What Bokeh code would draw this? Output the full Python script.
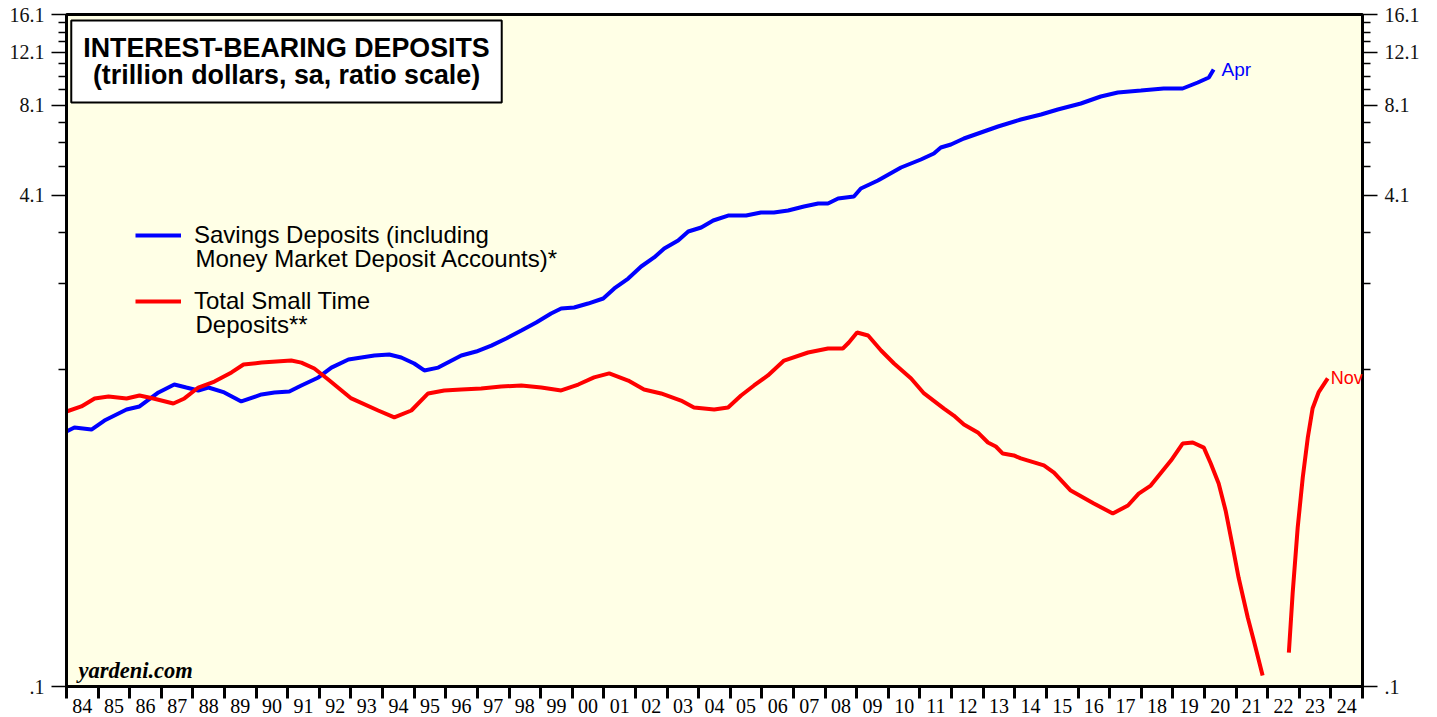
from bokeh.plotting import figure
from bokeh.models import Range1d, LogAxis, FixedTicker, Label, Legend, LegendItem
from bokeh.embed import file_html
from bokeh.resources import INLINE

NAN = float("nan")

# Savings Deposits (incl. MMDAs), trillion dollars
blue_years = [1984.00, 1984.25, 1984.79, 1985.20, 1985.90, 1986.31, 1986.91, 1987.41, 1987.79, 1988.17,
              1988.49, 1988.99, 1989.53, 1990.17, 1990.58, 1991.05, 1991.43, 1991.97, 1992.38, 1992.92,
              1993.33, 1993.74, 1994.21, 1994.59, 1995.00, 1995.32, 1995.76, 1996.49, 1996.96, 1997.44,
              1997.91, 1998.39, 1998.86, 1999.33, 1999.65, 2000.06, 2000.50, 2000.98, 2001.33, 2001.77,
              2002.18, 2002.59, 2002.91, 2003.35, 2003.67, 2004.08, 2004.46, 2004.93, 2005.50, 2005.97,
              2006.38, 2006.83, 2007.33, 2007.78, 2008.09, 2008.41, 2008.91, 2009.13, 2009.67, 2010.40,
              2011.03, 2011.44, 2011.66, 2011.98, 2012.39, 2012.93, 2013.47, 2014.19, 2014.83, 2015.36,
              2016.09, 2016.72, 2017.26, 2017.99, 2018.71, 2019.31, 2019.79, 2020.14, 2020.29]
blue_vals = [0.688, 0.709, 0.698, 0.747, 0.812, 0.831, 0.924, 0.981, 0.959, 0.938,
             0.959, 0.924, 0.863, 0.910, 0.924, 0.931, 0.974, 1.035, 1.115, 1.186,
             1.204, 1.222, 1.231, 1.204, 1.150, 1.091, 1.115, 1.222, 1.259, 1.317,
             1.389, 1.476, 1.568, 1.679, 1.743, 1.757, 1.810, 1.880, 2.028, 2.187,
             2.395, 2.564, 2.744, 2.915, 3.120, 3.216, 3.391, 3.521, 3.521, 3.602,
             3.602, 3.657, 3.770, 3.857, 3.857, 4.005, 4.065, 4.320, 4.589, 5.063,
             5.378, 5.628, 5.889, 6.024, 6.304, 6.597, 6.903, 7.278, 7.558, 7.850,
             8.214, 8.660, 8.926, 9.062, 9.201, 9.201, 9.627, 9.997, 10.62]

# Total Small Time Deposits, trillion dollars (gap where data is missing)
red_years = [1984.00, 1984.47, 1984.89, 1985.33, 1985.90, 1986.31, 1986.75, 1987.38, 1987.73, 1988.17,
             1988.68, 1989.22, 1989.60, 1990.17, 1991.11, 1991.43, 1991.84, 1992.28, 1993.01, 1993.86,
             1994.37, 1994.91, 1995.44, 1995.95, 1996.49, 1997.12, 1997.75, 1998.39, 1999.02, 1999.65,
             2000.19, 2000.69, 2001.17, 2001.77, 2002.27, 2002.81, 2003.44, 2003.85, 2004.49, 2004.93,
             2005.34, 2005.75, 2006.19, 2006.70, 2007.46, 2008.09, 2008.56, 2008.75, 2009.01, 2009.36,
             2009.77, 2010.18, 2010.72, 2011.13, 2011.76, 2012.07, 2012.39, 2012.83, 2013.15, 2013.40,
             2013.62, 2013.97, 2014.19, 2014.92, 2015.24, 2015.77, 2016.50, 2017.10, 2017.58, 2017.92,
             2018.30, 2018.94, 2019.31, 2019.63, 2019.98, 2020.20, 2020.45, 2020.67, 2020.90, 2021.08,
             2021.37, 2021.56, 2021.84, 2022.25, 2022.67, 2022.79, 2022.95, 2023.11, 2023.27, 2023.42,
             2023.61, 2023.90]
red_vals = [0.800, 0.831, 0.883, 0.896, 0.883, 0.903, 0.883, 0.850, 0.883, 0.959,
            1.003, 1.075, 1.141, 1.158, 1.176, 1.158, 1.107, 1.019, 0.883, 0.806,
            0.765, 0.806, 0.917, 0.938, 0.945, 0.952, 0.966, 0.974, 0.959, 0.938,
            0.981, 1.035, 1.067, 1.011, 0.945, 0.917, 0.869, 0.825, 0.812, 0.825,
            0.903, 0.974, 1.051, 1.176, 1.250, 1.288, 1.288, 1.348, 1.454, 1.421,
            1.269, 1.150, 1.027, 0.917, 0.818, 0.776, 0.725, 0.683, 0.633, 0.614,
            0.582, 0.574, 0.561, 0.532, 0.504, 0.440, 0.399, 0.370, 0.393, 0.430,
            0.457, 0.552, 0.628, 0.633, 0.609, 0.540, 0.464, 0.378, 0.286, 0.228,
            0.1685, 0.1416, 0.1087, NAN, 0.1293, 0.2021, 0.3328, 0.4857, 0.657, 0.818,
            0.924, 1.027]

blue_end_label = "Apr"
red_end_label = "Nov"

x_tick_labels = ["84", "85", "86", "87", "88", "89", "90", "91", "92", "93", "94", "95", "96", "97",
                 "98", "99", "00", "01", "02", "03", "04", "05", "06", "07", "08", "09", "10", "11",
                 "12", "13", "14", "15", "16", "17", "18", "19", "20", "21", "22", "23", "24"]
first_year = 1984
y_major = [0.1, 4.1, 8.1, 12.1, 16.1]
y_major_labels = [".1", "4.1", "8.1", "12.1", "16.1"]
y_minor = [1.1, 2.1, 3.1, 5.1, 6.1, 7.1, 9.1, 10.1, 11.1, 13.1, 14.1, 15.1]

title_text = "INTEREST-BEARING DEPOSITS\n(trillion dollars, sa, ratio scale)"
blue_name = ["Savings Deposits (including", "Money Market Deposit Accounts)*"]
red_name = ["Total Small Time", "Deposits**"]

year_bounds = [first_year + i for i in range(len(x_tick_labels) + 1)]
year_mids = [first_year + i + 0.5 for i in range(len(x_tick_labels))]

p = figure(width=1430, height=716,
           x_range=Range1d(year_bounds[0], year_bounds[-1]),
           y_range=Range1d(y_major[0], y_major[-1]),
           y_axis_type="log", output_backend="svg", toolbar_location=None,
           min_border_left=66, min_border_right=68, min_border_top=14, min_border_bottom=30,
           background_fill_color="#FFFFE6", border_fill_color="white")
p.xgrid.visible = False
p.ygrid.visible = False
p.outline_line_color = "black"
p.outline_line_width = 3
p.outline_line_alpha = 1.0

serif = "Liberation Serif"
sans = "Liberation Sans"

xa = p.xaxis[0]
xa.ticker = FixedTicker(ticks=year_mids, minor_ticks=year_bounds)
xa.major_label_overrides = {m: lab for m, lab in zip(year_mids, x_tick_labels)}
xa.major_tick_line_color = None
xa.major_tick_out = 0
xa.major_tick_in = 0
xa.minor_tick_out = 12
xa.minor_tick_in = 0
xa.minor_tick_line_width = 3
xa.minor_tick_line_color = "black"
xa.axis_line_color = "black"
xa.axis_line_width = 3
xa.major_label_text_font = serif
xa.major_label_text_font_size = "20px"
xa.major_label_text_color = "black"
xa.major_label_standoff = 0


def style_y(ax):
    ax.ticker = FixedTicker(ticks=y_major, minor_ticks=y_minor)
    ax.major_label_overrides = {v: lab for v, lab in zip(y_major, y_major_labels)}
    ax.major_tick_out = 15
    ax.major_tick_in = 0
    ax.minor_tick_out = 8
    ax.minor_tick_in = 0
    ax.major_tick_line_width = 1.5
    ax.minor_tick_line_width = 1.5
    ax.major_tick_line_color = "black"
    ax.minor_tick_line_color = "black"
    ax.axis_line_color = "black"
    ax.axis_line_width = 3
    ax.major_label_text_font = serif
    ax.major_label_text_font_size = "20px"
    ax.major_label_text_color = "#111111"
    ax.major_label_standoff = 7


style_y(p.yaxis[0])
ra = LogAxis()
style_y(ra)
p.add_layout(ra, "right")

blue_r = p.line(blue_years, blue_vals, line_color="#0000FF", line_width=4)
red_r = p.line(red_years, red_vals, line_color="#FF0000", line_width=4)

# end-of-series labels
for yrs, vals, txt, col, off, size in ((blue_years, blue_vals, blue_end_label, "#0000FF", 8, "19px"),
                                       (red_years, red_vals, red_end_label, "#FF0000", 3, "18px")):
    p.add_layout(Label(x=yrs[-1], y=vals[-1], x_units="data", y_units="data", text=txt,
                       x_offset=off, text_baseline="middle", text_align="left",
                       text_font=sans, text_font_size=size, text_color=col))

title = Label(x=220, y=666, x_units="screen", y_units="screen", text=title_text,
              text_font=sans, text_font_style="bold", text_font_size="26.8px",
              text_color="black", text_align="center", text_baseline="top",
              text_line_height=0.93, padding=12, background_fill_color="white",
              border_line_color="black", border_line_width=2)
p.add_layout(title)

credit = Label(x=12, y=16, x_units="screen", y_units="screen", text="yardeni.com",
               text_font=serif, text_font_style="bold italic", text_font_size="22.5px",
               text_align="left", text_baseline="alphabetic", text_color="black")
p.add_layout(credit)

legend = Legend(items=[LegendItem(label=blue_name[0], renderers=[blue_r]),
                       LegendItem(label=red_name[0], renderers=[red_r])],
                location=(69, 371), orientation="vertical",
                label_text_font=sans, label_text_font_size="24px", label_text_line_height=1.0,
                label_text_color="black", glyph_width=46, glyph_height=20, label_standoff=13,
                spacing=38, padding=0, margin=0, border_line_color=None,
                background_fill_alpha=0.0)
p.add_layout(legend)

for second_line, base_y in ((blue_name[1], 428), (red_name[1], 362)):
    p.add_layout(Label(x=129, y=base_y, x_units="screen", y_units="screen", text=second_line,
                       text_font=sans, text_font_size="24px", text_color="black",
                       text_align="left", text_baseline="alphabetic"))

open("out.html", "w").write(file_html(p, INLINE))
